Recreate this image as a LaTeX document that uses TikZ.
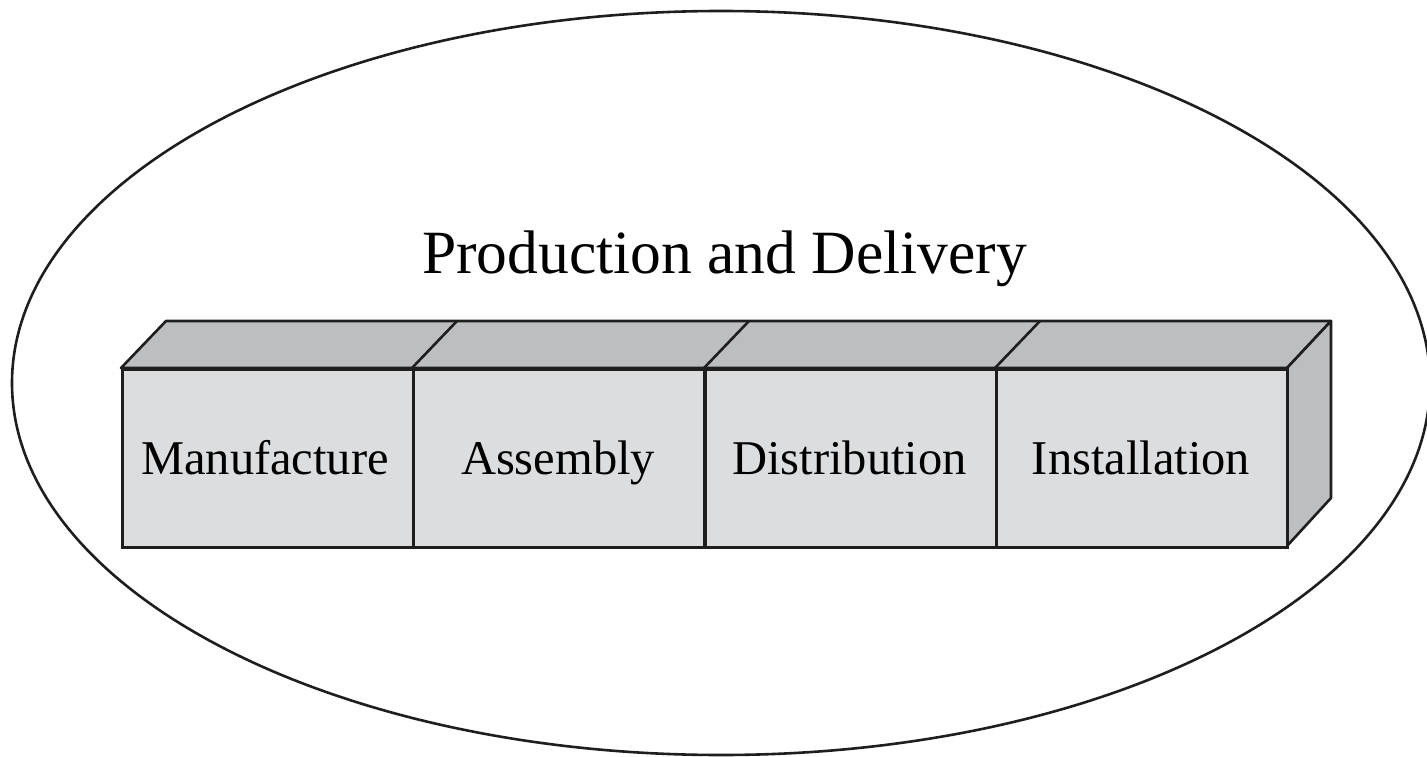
\documentclass[tikz,border=0pt]{standalone}
\usepackage{fontspec}
\setmainfont{Liberation Serif}
\definecolor{frontgray}{RGB}{220,221,223}
\definecolor{topgray}{RGB}{189,190,193}
\definecolor{inkline}{RGB}{30,30,30}
\begin{document}
\begin{tikzpicture}[x=1pt,y=-1pt,
  cell/.style={draw=inkline, line width=2.6pt, fill=frontgray, minimum width=291pt, minimum height=178pt, inner sep=0pt, anchor=north west},
  face/.style={draw=inkline, line width=2.6pt, fill=topgray, line join=round},
  lbl/.style={font=\fontsize{48.5}{56}\selectfont, anchor=base, text=black},
  ttl/.style={font=\fontsize{61.5}{70}\selectfont, anchor=base, text=black}]
\useasboundingbox (0,0) rectangle (1427,757);
\clip (0,0) rectangle (1427,757);
\draw[line width=2.6pt, draw=inkline] (721,383) ellipse [x radius=709, y radius=372];
\node[ttl] (title) at (724.5,273) {Production and Delivery};
% top and side faces
\draw[face] (121,368) -- (166,321) -- (1331,321) -- (1287,368) -- cycle;
\draw[face] (1287,368) -- (1331,321) -- (1331,498) -- (1287,546) -- cycle;
\foreach \xx in {412,704,995} \draw[inkline, line width=2.6pt] (\xx,368) -- (\xx+45,321);
% front cells
\node[cell] (m) at (121,368) {};
\node[cell] (a) at (412,368) {};
\node[cell] (d) at (704,368) {};
\node[cell] (i) at (995,368) {};
\node[lbl] (ml) at (265,474) {Manufacture};
\node[lbl] (al) at (558,474) {Assembly};
\node[lbl] (dl) at (849.5,474) {Distribution};
\node[lbl] (il) at (1141,474) {Installation};
\end{tikzpicture}
\end{document}
